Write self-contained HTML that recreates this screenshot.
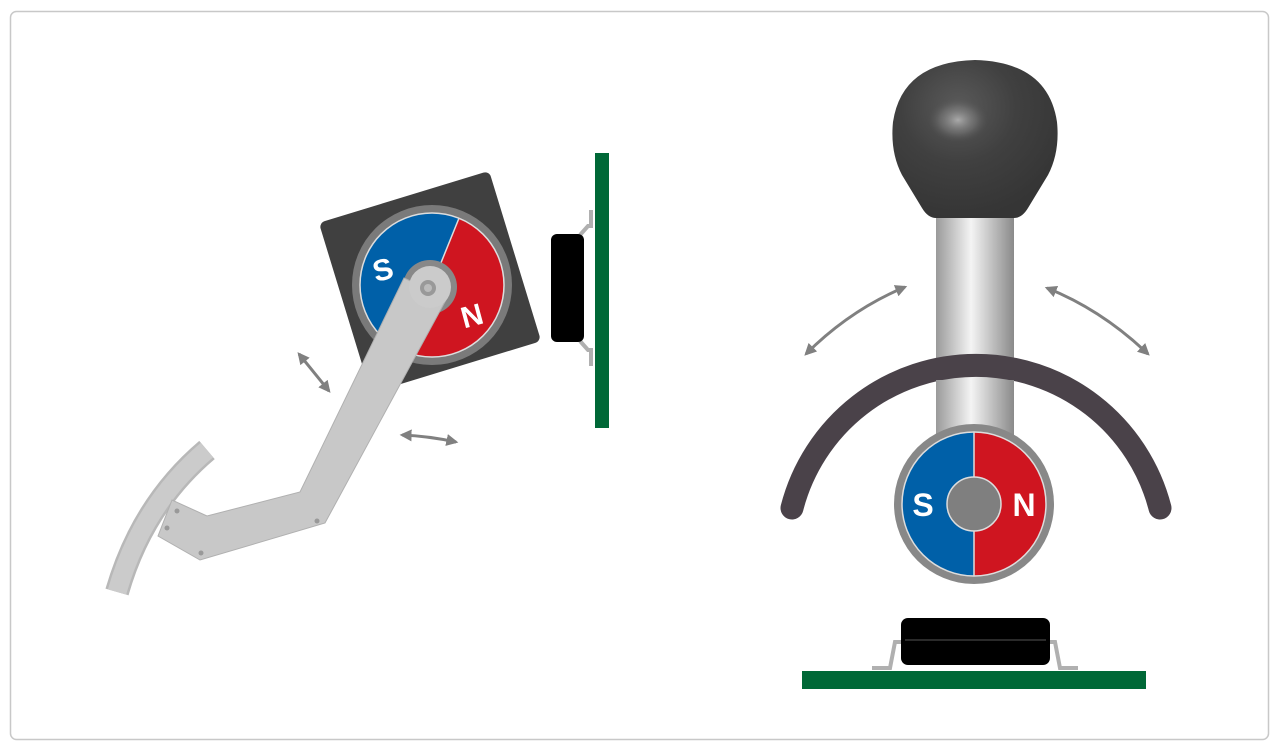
<!DOCTYPE html>
<html><head><meta charset="utf-8"><style>
html,body{margin:0;padding:0;background:#fff;width:1280px;height:750px;overflow:hidden}
svg{display:block}
text{font-family:"Liberation Sans",sans-serif;font-weight:bold;fill:#fff}
</style></head><body>
<svg width="1280" height="750" viewBox="0 0 1280 750" xmlns="http://www.w3.org/2000/svg">
<defs>
<linearGradient id="shaft" x1="0" x2="1" y1="0" y2="0">
<stop offset="0" stop-color="#9a9a9a"/><stop offset="0.45" stop-color="#f4f4f4"/><stop offset="1" stop-color="#8a8a8a"/>
</linearGradient>
<radialGradient id="knob" cx="0.4" cy="0.3" r="0.7">
<stop offset="0" stop-color="#5a5a5a"/><stop offset="0.5" stop-color="#404040"/><stop offset="1" stop-color="#353535"/>
</radialGradient>
<radialGradient id="hl" cx="0.5" cy="0.5" r="0.5">
<stop offset="0" stop-color="#aaa"/><stop offset="0.6" stop-color="#777" stop-opacity="0.6"/><stop offset="1" stop-color="#555" stop-opacity="0"/>
</radialGradient>
<marker id="ah" viewBox="0 0 10 10" refX="8" refY="5" markerWidth="4" markerHeight="4" orient="auto-start-reverse">
<path d="M0,0 L10,5 L0,10 z" fill="#808080"/>
</marker>
</defs>
<rect x="10.5" y="11.5" width="1258" height="728" rx="6" fill="#fff" stroke="#c8c8c8" stroke-width="1.5"/>

<!-- LEFT -->
<rect x="341" y="193" width="178" height="178" rx="6" fill="#404040" transform="rotate(-17 430 282)"/>
<circle cx="432" cy="285" r="80" fill="#7a7a7a"/>
<g transform="rotate(22 432 285)">
<path d="M432,213 A72,72 0 0 0 432,357 Z" fill="#0060a8"/>
<path d="M432,213 A72,72 0 0 1 432,357 Z" fill="#cf1520"/>
<line x1="432" y1="213" x2="432" y2="357" stroke="#ddd" stroke-width="1.5"/>
</g>
<circle cx="432" cy="285" r="72" fill="none" stroke="#ddd" stroke-width="1.5"/>
<text x="383" y="280" font-size="30" text-anchor="middle" transform="rotate(-15 383 270)">S</text>
<text x="472" y="326" font-size="30" text-anchor="middle" transform="rotate(-15 472 316)">N</text>
<circle cx="430" cy="287" r="27" fill="#888"/>
<!-- lever -->
<path d="M207,450 Q142,505 117,592" stroke="#b8b8b8" stroke-width="24" fill="none"/>
<path d="M207,450 Q142,505 117,592" stroke="#cbcbcb" stroke-width="19" fill="none"/>
<polygon points="404,278 447,298 325,523 200,560 158,536 172,500 207,516 300,492" fill="#c8c8c8" stroke="#b0b0b0" stroke-width="1"/>
<circle cx="430" cy="287" r="21" fill="#cbcbcb"/>
<circle cx="428" cy="288" r="8" fill="#999"/>
<circle cx="428" cy="288" r="4" fill="#bbb"/>
<g fill="#999"><circle cx="177" cy="511" r="2.5"/><circle cx="167" cy="528" r="2.5"/><circle cx="201" cy="553" r="2.5"/><circle cx="317" cy="521" r="2.5"/></g>
<!-- chip + pcb -->
<path d="M580,235 L588,226 L591,226 L591,210 M580,341 L588,350 L591,350 L591,366" stroke="#b0b0b0" stroke-width="4" fill="none"/>
<rect x="551" y="234" width="33" height="108" rx="6" fill="#000"/>
<rect x="595" y="153" width="14" height="275" fill="#006837"/>
<!-- arrows -->
<line x1="299" y1="354" x2="329" y2="391" stroke="#808080" stroke-width="3" marker-start="url(#ah)" marker-end="url(#ah)"/>
<path d="M402,435 Q428,436 456,442" stroke="#808080" stroke-width="3" fill="none" marker-start="url(#ah)" marker-end="url(#ah)"/>

<!-- RIGHT -->
<path d="M806,354 Q850,310 905,287" stroke="#808080" stroke-width="3" fill="none" marker-start="url(#ah)" marker-end="url(#ah)"/>
<path d="M1047,288 Q1102,310 1148,354" stroke="#808080" stroke-width="3" fill="none" marker-start="url(#ah)" marker-end="url(#ah)"/>
<rect x="936" y="210" width="78" height="270" fill="url(#shaft)"/>
<path d="M936,218 L1014,218 Q1022,218 1028,208 L1048,175 Q1060,152 1057,122 Q1048,62 975,60 Q902,62 893,122 Q890,152 902,175 L922,208 Q928,218 936,218 Z" fill="url(#knob)"/>
<ellipse cx="958" cy="120" rx="30" ry="22" fill="url(#hl)"/>
<path d="M792,508 A190,190 0 0 1 1160,508" stroke="#4a4249" stroke-width="23" fill="none" stroke-linecap="round"/>
<rect x="936" y="380" width="78" height="60" fill="url(#shaft)"/>
<circle cx="974" cy="504" r="80" fill="#888"/>
<path d="M974,432 A72,72 0 0 0 974,576 Z" fill="#0060a8"/>
<path d="M974,432 A72,72 0 0 1 974,576 Z" fill="#cf1520"/>
<line x1="974" y1="432" x2="974" y2="576" stroke="#ddd" stroke-width="1.5"/>
<circle cx="974" cy="504" r="72" fill="none" stroke="#ddd" stroke-width="1.5"/>
<circle cx="974" cy="504" r="27" fill="#7f7f7f" stroke="#ddd" stroke-width="1.5"/>
<text x="923" y="516" font-size="32" text-anchor="middle">S</text>
<text x="1024" y="516" font-size="32" text-anchor="middle">N</text>
<!-- chip bottom -->
<path d="M872,668 L890,668 L895,642 L903,642 M1078,668 L1060,668 L1055,642 L1047,642" stroke="#b0b0b0" stroke-width="4" fill="none"/>
<rect x="901" y="618" width="149" height="47" rx="7" fill="#000"/>
<line x1="905" y1="640" x2="1046" y2="640" stroke="#555" stroke-width="1"/>
<rect x="802" y="671" width="344" height="18" fill="#006837"/>
</svg>
</body></html>
